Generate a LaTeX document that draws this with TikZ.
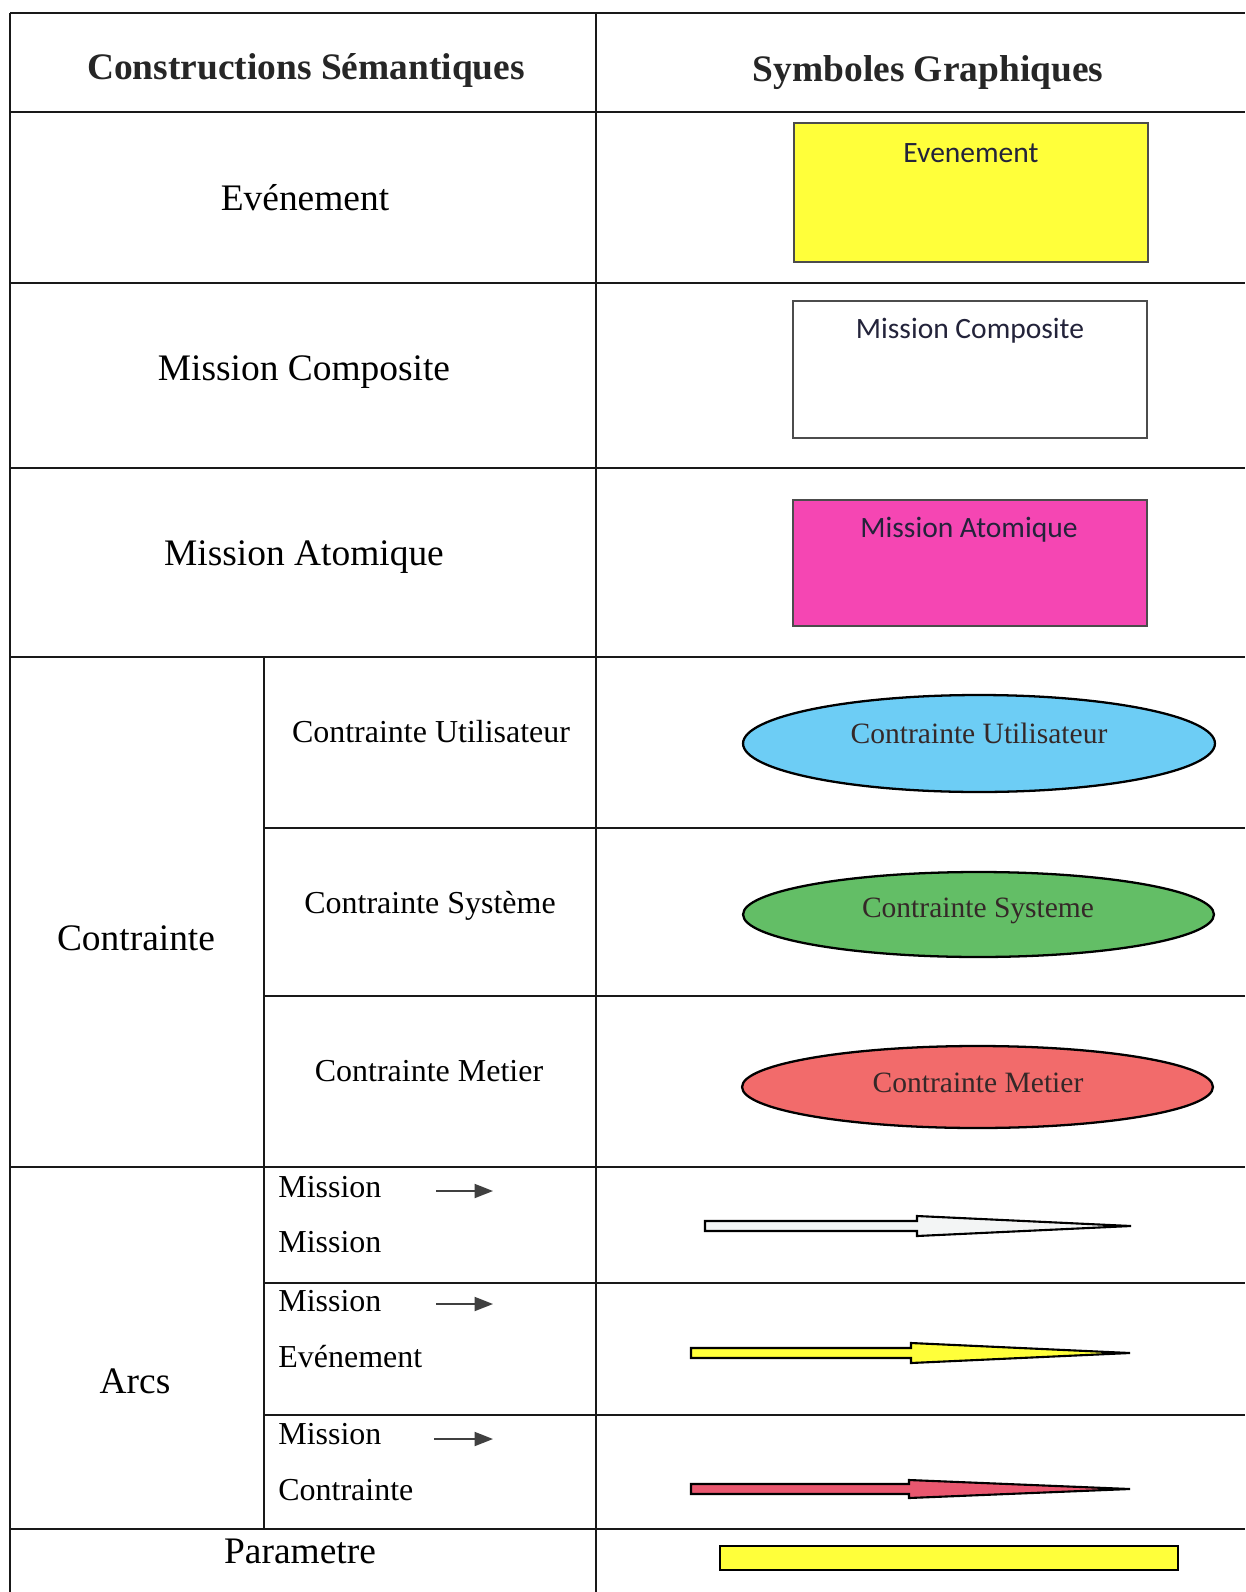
\documentclass[tikz,border=0pt]{standalone}
\usepackage{fontspec}
\setmainfont{Liberation Serif}
\newfontfamily\calibrifont{Carlito}
\usetikzlibrary{arrows.meta}
\definecolor{evtyellow}{HTML}{FFFF3A}
\definecolor{atompink}{HTML}{F546B3}
\definecolor{utilblue}{HTML}{6DCDF5}
\definecolor{sysgreen}{HTML}{63BE66}
\definecolor{metred}{HTML}{F26B6B}
\definecolor{arcred}{HTML}{E9576F}
\definecolor{arcwhite}{HTML}{F3F5F5}
\definecolor{inkblue}{HTML}{23233A}
\definecolor{inkdark}{HTML}{352828}
\begin{document}
\begin{tikzpicture}[x=0.02cm,y=-0.02cm,
  rule/.style={line width=1.1pt,draw=black!90},
  biglbl/.style={font=\fontsize{21.3}{25}\selectfont,anchor=base,inner sep=0pt},
  headlbl/.style={biglbl,font=\fontsize{21.3}{25}\selectfont\bfseries,text=black!85},
  sublbl/.style={font=\fontsize{18.2}{22}\selectfont,anchor=base,inner sep=0pt},
  arclbl/.style={sublbl,anchor=base west},
  symtxt/.style={font=\calibrifont\fontsize{16.8}{20}\selectfont,text=inkblue,anchor=base,inner sep=0pt},
  elltxt/.style={font=\fontsize{16.8}{20}\selectfont,text=inkdark,anchor=base,inner sep=0pt},
  symbox/.style={line width=0.6pt,draw=black!70},
  ellbox/.style={line width=1.3pt,draw=black},
  fatarrow/.style={line width=1.2pt,draw=black,line join=miter},
  smallarr/.style={line width=1pt,draw=black!75,-{Triangle[length=10.5pt,width=8pt]}}]
\useasboundingbox (0,0) rectangle (1245,1592);
\fill[white] (0,0) rectangle (1245,1592);

% grid of the table
\draw[rule] (10,13) -- (1245,13);
\draw[rule] (10,112) -- (1245,112);
\draw[rule] (10,283) -- (1245,283);
\draw[rule] (10,468) -- (1245,468);
\draw[rule] (10,657) -- (1245,657);
\draw[rule] (264,828) -- (1245,828);
\draw[rule] (264,996) -- (1245,996);
\draw[rule] (10,1167) -- (1245,1167);
\draw[rule] (264,1283) -- (1245,1283);
\draw[rule] (264,1415) -- (1245,1415);
\draw[rule] (10,1529) -- (1245,1529);
\draw[rule] (10,13) -- (10,1592);
\draw[rule] (596,13) -- (596,1592);
\draw[rule] (264,657) -- (264,1529);

% left column
\node[headlbl] (hdrsem) at (306,79) {Constructions Sémantiques};
\node[headlbl] (hdrsym) at (928,81) {Symboles Graphiques};
\node[biglbl] (evt) at (305,210) {Evénement};
\node[biglbl] (mcomp) at (304,380) {Mission Composite};
\node[biglbl] (matom) at (304,565) {Mission Atomique};
\node[biglbl] (contr) at (136,950) {Contrainte};
\node[sublbl] (cutil) at (431,742) {Contrainte Utilisateur};
\node[sublbl] (csys) at (430,913) {Contrainte Système};
\node[sublbl] (cmet) at (429,1081) {Contrainte Metier};
\node[biglbl] (arcs) at (135,1393) {Arcs};
\node[biglbl] (param) at (300,1563) {Parametre};

\node[arclbl] (mm1) at (278,1197) {Mission};
\node[arclbl] (mm2) at (278,1252) {Mission};
\node[arclbl] (me1) at (278,1311) {Mission};
\node[arclbl] (me2) at (278,1367) {Evénement};
\node[arclbl] (mc1) at (278,1444) {Mission};
\node[arclbl] (mc2) at (278,1500) {Contrainte};
\coordinate (mmfrom) at (436,1191);
\coordinate (mmto) at (493,1191);
\coordinate (mefrom) at (436,1304);
\coordinate (meto) at (493,1304);
\coordinate (mcfrom) at (434,1439);
\coordinate (mcto) at (493,1439);
\draw[smallarr] (mmfrom) -- (mmto);
\draw[smallarr] (mefrom) -- (meto);
\draw[smallarr] (mcfrom) -- (mcto);

% symbols
\draw[symbox,fill=evtyellow] (794,123) rectangle (1148,262);
\node[symtxt] (symevt) at (971,162) {Evenement};
\draw[symbox,fill=white] (793,301) rectangle (1147,438);
\node[symtxt] (symcomp) at (970,338) {Mission Composite};
\draw[symbox,fill=atompink] (793,500) rectangle (1147,626);
\node[symtxt] (symatom) at (969,537) {Mission Atomique};

\draw[ellbox,fill=utilblue] (979,743.5) ellipse [x radius=4.72cm,y radius=0.97cm];
\node[elltxt] (symutil) at (979,743) {Contrainte Utilisateur};
\draw[ellbox,fill=sysgreen] (978.5,914.5) ellipse [x radius=4.71cm,y radius=0.85cm];
\node[elltxt] (symsys) at (978,917) {Contrainte Systeme};
\draw[ellbox,fill=metred] (977.5,1087) ellipse [x radius=4.71cm,y radius=0.82cm];
\node[elltxt] (symmet) at (978,1092) {Contrainte Metier};

\draw[fatarrow,fill=arcwhite] (705,1221) -- (917,1221) -- (917,1216) -- (1131,1226)
  -- (917,1236) -- (917,1231) -- (705,1231) -- cycle;
\draw[fatarrow,fill=evtyellow] (691,1348) -- (911,1348) -- (911,1343) -- (1130,1353)
  -- (911,1363) -- (911,1358) -- (691,1358) -- cycle;
\draw[fatarrow,fill=arcred] (691,1484) -- (909,1484) -- (909,1480) -- (1130,1489)
  -- (909,1498) -- (909,1494) -- (691,1494) -- cycle;

\draw[fatarrow,fill=evtyellow] (720,1546) rectangle (1178,1570);
\end{tikzpicture}
\end{document}
